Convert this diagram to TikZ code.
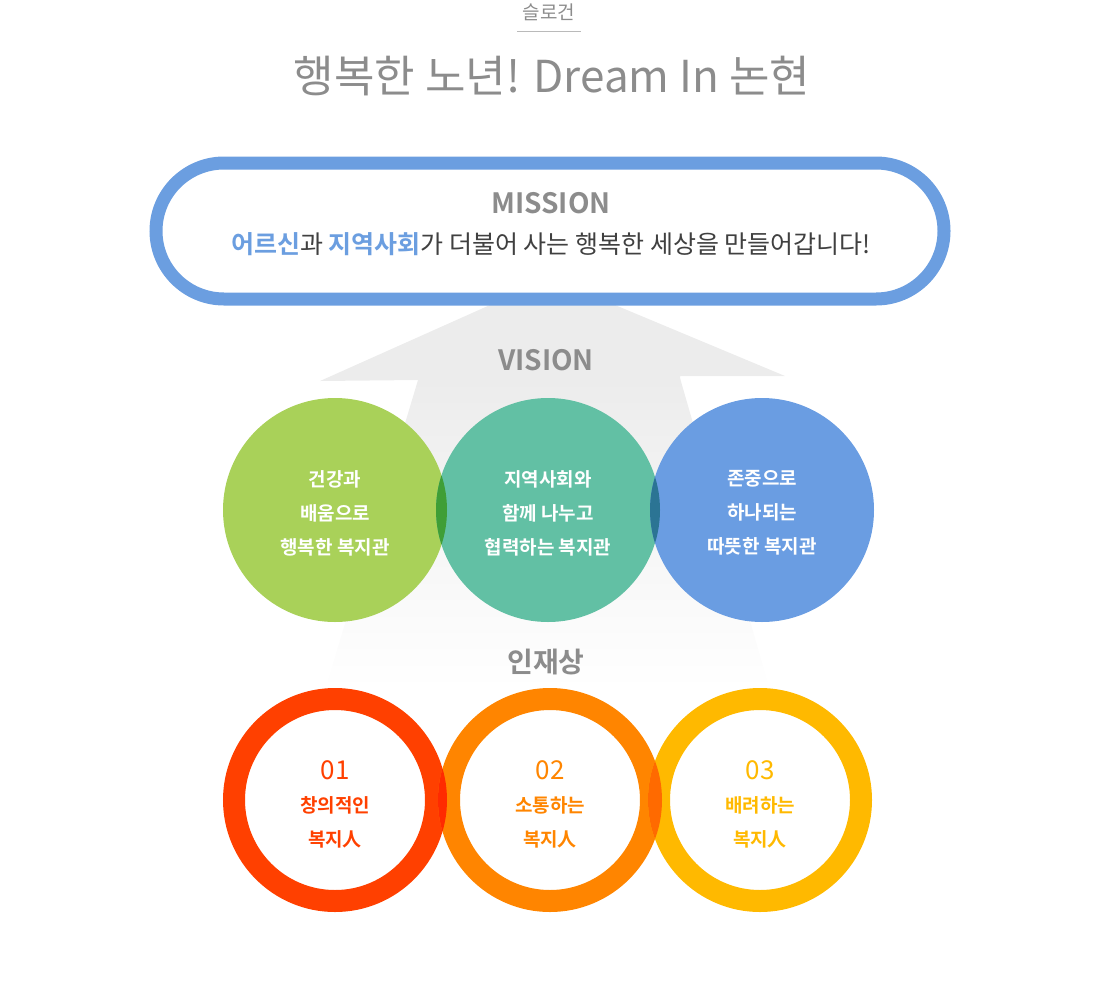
\documentclass[tikz,border=0pt]{standalone}
\usepackage{fontspec}
\setmainfont{Noto Sans CJK KR}
\newfontfamily\krb{Noto Sans CJK KR Bold}
\usetikzlibrary{shadings}
\definecolor{gtxt}{HTML}{8C8C8C}
\definecolor{mblue}{HTML}{6B9EE0}
\definecolor{vgreen}{HTML}{A9D159}
\definecolor{vteal}{HTML}{62C0A4}
\definecolor{vblue}{HTML}{6A9DE2}
\definecolor{ovg}{HTML}{3F9E36}
\definecolor{ovb}{HTML}{2B7494}
\definecolor{rred}{HTML}{FF4000}
\definecolor{rorg}{HTML}{FF8500}
\definecolor{ryel}{HTML}{FFB900}
\definecolor{ovr}{HTML}{FF2A00}
\definecolor{ovo}{HTML}{FF6A00}
\definecolor{arr}{HTML}{ECECEC}
\tikzset{
 vtext/.style={text=white,font=\krb\fontsize{19}{34}\selectfont,align=center},
 rtext/.style={font=\krb\fontsize{19}{34}\selectfont,align=center},
 num/.style={font=\fontsize{26}{30}\selectfont},
 head/.style={text=gtxt,font=\krb\fontsize{28}{32}\selectfont}
}
\begin{document}
\begin{tikzpicture}[x=1pt,y=-1pt]
\useasboundingbox (0,0) rectangle (1100,980);
% arrow background
\fill[arr] (490,305) -- (615,305) -- (785,376) -- (680,376) -- (680,380) -- (418,380) -- (320,381) -- cycle;
\shade[top color=arr,bottom color=white] (418,380) -- (680,378) -- (770,690) -- (325,690) -- cycle;
% title
\node[text=gtxt,font=\fontsize{19}{22}\selectfont] (slg) at (549,12) {슬로건};
\draw[gtxt!60,line width=1pt] (517,31) -- (581,31);
\node[text=gtxt,font=\fontsize{44}{50}\selectfont] (title) at (552,76) {행복한 노년\textit{!} Dream In 논현};
% mission
\draw[mblue,line width=13pt,fill=white,rounded corners=68pt] (156,163) rectangle (944,299);
\node[head] (mis) at (551,203) {MISSION};
\node[font=\fontsize{25}{30}\selectfont,text=black!75] (mline) at (551,244) {{\krb\color{mblue}어르신}과 {\krb\color{mblue}지역사회}가 더불어 사는 행복한 세상을 만들어갑니다\textit{!}};
\node[head] (vis) at (546,360) {VISION};
% vision circles
\fill[vgreen] (335,510) circle (112);
\fill[vteal] (548,510) circle (112);
\fill[vblue] (762,510) circle (112);
\begin{scope}\clip (335,510) circle (112); \fill[ovg] (548,510) circle (112);\end{scope}
\begin{scope}\clip (548,510) circle (112); \fill[ovb] (762,510) circle (112);\end{scope}
\node[vtext] (v1) at (335,513) {건강과\\배움으로\\행복한 복지관};
\node[vtext] (v2) at (548,513) {지역사회와\\함께 나누고\\협력하는 복지관};
\node[vtext] (v3) at (762,513) {존중으로\\하나되는\\따뜻한 복지관};
\node[head] (inj) at (546,662) {인재상};
% rings
\draw[rred,line width=22pt] (335,800) circle (101);
\draw[rorg,line width=22pt] (550,800) circle (101);
\draw[ryel,line width=22pt] (760,800) circle (101);
\begin{scope}\clip (335,800) circle (112); \draw[ovr,line width=22pt] (550,800) circle (101);\end{scope}
\begin{scope}\clip (550,800) circle (112); \draw[ovo,line width=22pt] (760,800) circle (101);\end{scope}
\node[num,text=rred] (n1) at (335,770) {01};
\node[rtext,text=rred] (r1) at (335,822) {창의적인\\복지人};
\node[num,text=rorg] (n2) at (550,770) {02};
\node[rtext,text=rorg] (r2) at (550,822) {소통하는\\복지人};
\node[num,text=ryel] (n3) at (760,770) {03};
\node[rtext,text=ryel] (r3) at (760,822) {배려하는\\복지人};
\end{tikzpicture}
\end{document}
